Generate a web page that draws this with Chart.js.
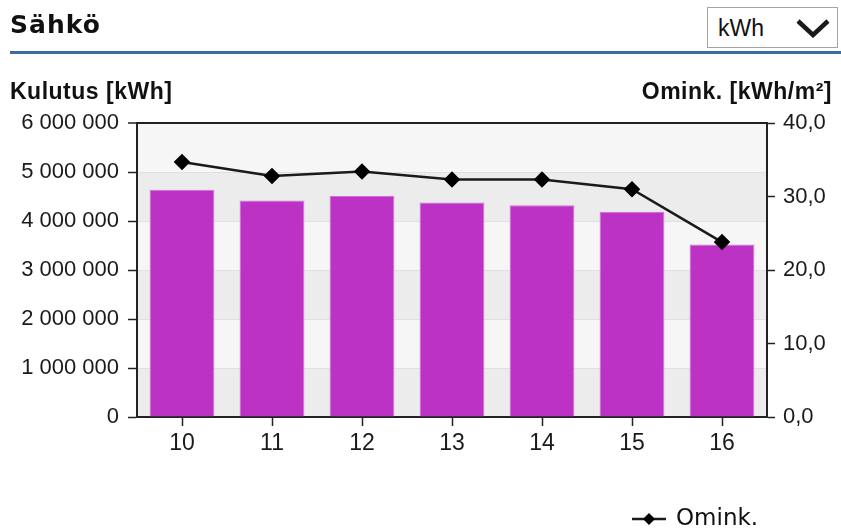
<!DOCTYPE html>
<html lang="fi">
<head>
    <meta charset="UTF-8">
    <title>Sähkö</title>
    <script src="https://cdn.jsdelivr.net/npm/chart.js"></script>
    <style>
        body { margin: 0; background: #fff; }
        .sivu { position: relative; width: 841px; height: 531px; overflow: hidden; }
        .kaavio { position: absolute; left: 0; top: 0; width: 841px; height: 531px; }
        .otsikko { position: absolute; left: 10px; top: 12px; font: bold 25px/25px "DejaVu Sans"; letter-spacing: 1px; color: #111; }
        .viiva { position: absolute; left: 10px; top: 51px; width: 831px; height: 3px; background: #3d6ba7; }
        .valinta { position: absolute; left: 707px; top: 7px; width: 129px; height: 39px; border: 1px solid #a4a4a4; background: #fff; }
        .valinta span { position: absolute; left: 10px; top: 9px; font: 23px/23px "Liberation Sans"; color: #111; }
        .valinta svg { position: absolute; left: 88px; top: 10px; }
        .akseli { position: absolute; top: 80px; font: bold 23px/23px "Liberation Sans"; letter-spacing: 0.5px; color: #111; }
        .selite { position: absolute; left: 632px; top: 506px; font: 23px/23px "DejaVu Sans"; color: #111; }
        .selite svg { vertical-align: -1px; margin-right: 10px; }
    </style>
</head>
<body>
<div class="sivu">
    <div class="kaavio"><canvas id="sahkoKaavio"></canvas></div>
    <div class="otsikko">Sähkö</div>
    <div class="viiva"></div>
    <div class="valinta"><span>kWh</span>
        <svg width="34" height="20"><polyline points="2,3 17,17 32,3" fill="none" stroke="#1a1a1a" stroke-width="4.5"/></svg>
    </div>
    <div class="akseli" style="left:10px">Kulutus [kWh]</div>
    <div class="akseli" style="right:9px">Omink. [kWh/m²]</div>
    <div class="selite">
        <svg width="34" height="14"><line x1="0" y1="7" x2="34" y2="7" stroke="#1a1a1a" stroke-width="2.5"/><polygon points="17,1 23,7 17,13 11,7" fill="#000"/></svg>Omink.
    </div>
</div>

<script>
    // vuodet ja arvot luettu kuvasta
    const vuodet = ['10', '11', '12', '13', '14', '15', '16'];
    const kulutus = [4640000, 4420000, 4510000, 4380000, 4320000, 4190000, 3520000];
    const ominaiskulutus = [34.7, 32.8, 33.4, 32.3, 32.3, 31.0, 23.8];

    // vuorottelevat taustaraidat y-akselin jakovälien mukaan
    const raidat = {
        id: 'raidat',
        beforeDraw(chart) {
            const { ctx, chartArea } = chart;
            const y = chart.scales.y;
            y.ticks.forEach((t, i) => {
                if (i === y.ticks.length - 1) return;
                const ala = y.getPixelForValue(t.value);
                const yla = y.getPixelForValue(y.ticks[i + 1].value);
                ctx.fillStyle = i % 2 === 0 ? '#ececec' : '#f6f6f6';
                ctx.fillRect(chartArea.left, yla, chartArea.right - chartArea.left, ala - yla);
            });
        }
    };

    const tuhannet = v => String(v).replace(/\B(?=(\d{3})+(?!\d))/g, ' ');

    new Chart(document.getElementById('sahkoKaavio'), {
        data: {
            labels: vuodet,
            datasets: [{
                type: 'line',
                label: 'Omink.',
                data: ominaiskulutus,
                yAxisID: 'y1',
                order: 0,
                borderColor: '#1a1a1a',
                borderWidth: 2.5,
                tension: 0,
                pointStyle: 'rectRot',
                pointRadius: 6.5,
                pointBackgroundColor: '#000',
                pointBorderColor: '#000'
            }, {
                type: 'bar',
                label: 'Kulutus',
                data: kulutus,
                yAxisID: 'y',
                order: 1,
                backgroundColor: '#bc32c4',
                borderColor: '#cf6ed6',
                borderWidth: 1,
                barPercentage: 0.72,
                categoryPercentage: 1
            }]
        },
        options: {
            responsive: true,
            maintainAspectRatio: false,
            animation: false,
            layout: { padding: { top: 123, left: 0, right: 0, bottom: 74 } },
            plugins: { legend: { display: false }, tooltip: { enabled: false } },
            scales: {
                x: {
                    afterFit: s => { s.height = 40; },
                    border: { color: '#222', width: 2 },
                    grid: { offset: false, drawOnChartArea: false, tickLength: 9, tickColor: '#222', tickWidth: 1.5 },
                    ticks: { color: '#1a1a1a', padding: 4, font: { family: 'Liberation Sans', size: 23 } }
                },
                y: {
                    position: 'left',
                    min: 0,
                    max: 6000000,
                    afterFit: s => { s.width = 137; },
                    border: { color: '#222', width: 2 },
                    grid: {
                        color: c => c.tick && c.tick.value === 6000000 ? '#222' : '#e0e0e0',
                        lineWidth: c => c.tick && c.tick.value === 6000000 ? 2 : 1,
                        tickLength: 9, tickColor: '#222', tickWidth: 1.5
                    },
                    ticks: {
                        stepSize: 1000000, padding: 9, color: '#1a1a1a',
                        font: { family: 'Liberation Sans', size: 22 },
                        callback: v => tuhannet(v)
                    }
                },
                y1: {
                    position: 'right',
                    min: 0,
                    max: 40,
                    afterFit: s => { s.width = 74; },
                    border: { color: '#222', width: 2 },
                    grid: { drawOnChartArea: false, tickLength: 8, tickColor: '#222', tickWidth: 1.5 },
                    ticks: {
                        stepSize: 10, padding: 8, color: '#1a1a1a',
                        font: { family: 'Liberation Sans', size: 22 },
                        callback: v => v.toFixed(1).replace('.', ',')
                    }
                }
            }
        },
        plugins: [raidat]
    });
</script>
</body>
</html>
